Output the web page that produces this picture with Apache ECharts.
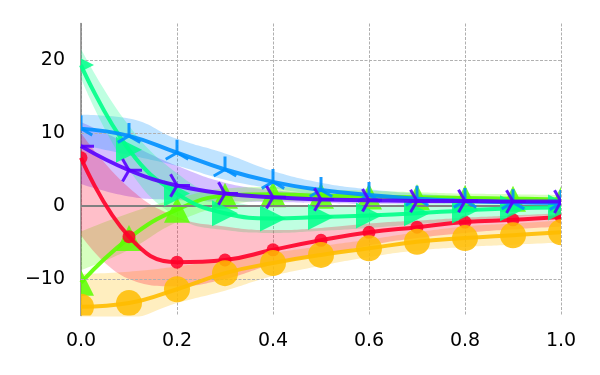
<!DOCTYPE html>
<html><head><meta charset="utf-8">
<script src="https://cdn.jsdelivr.net/npm/echarts@6/dist/echarts.min.js"></script>
<style>html,body{margin:0;padding:0;background:#fff}#c{width:600px;height:375px}</style>
</head><body><div id="c"></div>
<script>
const xs = [0, 0.1, 0.2, 0.3, 0.4, 0.5, 0.6, 0.7, 0.8, 0.9, 1.0];
const xTicks = [0, 0.2, 0.4, 0.6, 0.8, 1.0];
const yTicks = [-10, 0, 10, 20];

const redY  = [6.6, -4.2, -7.7, -7.4, -6.0, -4.7, -3.6, -2.9, -2.2, -1.9, -1.5];
const redHi = [10, 2.5, -1.5, -2.8, -3.3, -3.0, -2.4, -2.0, -1.6, -1.3, -1.0];
const redLo = [-4, -10, -11, -10, -8.0, -6.8, -5.4, -4.4, -3.7, -3.2, -2.8];

const orangeY  = [-13.8, -13.3, -11.4, -9.2, -7.8, -6.7, -5.8, -4.9, -4.4, -4.0, -3.6];
const orangeHi = [-9.3, -9.0, -8.3, -7.3, -6.4, -5.5, -4.6, -3.6, -2.8, -2.4, -2.0];
const orangeLo = [-16, -15.5, -13.3, -11.6, -9.6, -8.2, -7.0, -6.1, -5.6, -5.3, -5.0];

const limeY  = [-10.5, -4.4, -0.5, 1.4, 1.6, 1.4, 1.3, 1.2, 1.1, 1.0, 0.9];
const limeHi = [-3.5, -1.0, 1.0, 2.4, 2.6, 2.3, 2.1, 1.9, 1.7, 1.6, 1.5];
const limeLo = [-8.8, -6.0, -2.2, 0.0, 0.7, 0.7, 0.6, 0.5, 0.4, 0.4, 0.3];

const springY  = [19.3, 7.7, 1.7, -1.0, -1.7, -1.5, -1.3, -1.0, -0.6, -0.3, -0.2];
const springHi = [21.5, 11, 4.5, 1.0, 0.0, 0.0, 0.1, 0.3, 0.4, 0.5, 0.5];
const springLo = [17.5, 5.0, -1.5, -3.3, -3.7, -3.4, -3.0, -2.5, -2.0, -1.5, -1.2];

const blueY  = [10.6, 9.6, 7.3, 5.0, 3.3, 2.2, 1.5, 1.0, 0.7, 0.5, 0.4];
const blueHi = [12.5, 12.0, 9.2, 7.2, 4.8, 3.2, 2.3, 1.7, 1.3, 1.0, 0.8];
const blueLo = [8.4, 7.0, 5.5, 3.6, 2.4, 1.6, 1.1, 0.7, 0.5, 0.3, 0.2];

const violetY  = [8.2, 4.9, 2.8, 1.7, 1.2, 0.9, 0.8, 0.7, 0.7, 0.6, 0.6];
const violetHi = [11.5, 8.5, 5.5, 3.2, 2.2, 1.7, 1.4, 1.3, 1.2, 1.1, 1.1];
const violetLo = [3.0, 1.3, 0.8, 0.6, 0.5, 0.4, 0.3, 0.3, 0.3, 0.3, 0.3];

const C = {red:'#ff0029', orange:'#ffbc00', lime:'#5cff00', spring:'#00ff89', blue:'#008fff', violet:'#5800ff'};

const SM = 0.45;
const pairs = (arr) => xs.map((x, i) => [x, arr[i]]);

function band(key, lo, hi, color) {
  return [
    {type:'line', xAxisIndex:1, data: lo.slice(), stack:'b_'+key, stackStrategy:'all', smooth:SM, symbol:'none',
     lineStyle:{opacity:0}, silent:true, z:1, animation:false},
    {type:'line', xAxisIndex:1, data: hi.map((h,i)=>h-lo[i]), stack:'b_'+key, stackStrategy:'all', smooth:SM, symbol:'none',
     lineStyle:{opacity:0}, areaStyle:{color:color, opacity:0.25}, silent:true, z:1, animation:false}
  ];
}
function line(y, color, z) {
  return {type:'line', data: pairs(y), smooth:SM, symbol:'none', silent:true, z:z, animation:false,
    lineStyle:{color:color, width:4, opacity:0.9}};
}
function marker(y, color, kind, size, z) {
  return {type:'custom', data: pairs(y), z:z, silent:true, animation:false, encode:{x:0, y:1},
    renderItem(params, api) {
      const p = api.coord([api.value(0), api.value(1)]);
      const cs = params.coordSys;
      const h = size / 2, x = p[0], y = p[1];
      let el;
      if (kind === 'circle') {
        el = {type:'circle', shape:{cx:x, cy:y, r:h}, style:{fill:color, opacity:0.85}};
      } else if (kind === 'tup') {
        el = {type:'polygon', shape:{points:[[x, y-h], [x-h, y+h], [x+h, y+h]]}, style:{fill:color, opacity:0.85}};
      } else if (kind === 'tright') {
        el = {type:'polygon', shape:{points:[[x+h, y], [x-h, y-h], [x-h, y+h]]}, style:{fill:color, opacity:0.85}};
      } else {
        const ang = kind === 'triUp' ? [-90, 30, 150] : [0, 120, 240];
        el = {type:'group', children: ang.map(a => ({type:'line',
          shape:{x1:x, y1:y, x2:x + h*Math.cos(a*Math.PI/180), y2:y + h*Math.sin(a*Math.PI/180)},
          style:{stroke:color, lineWidth:3, opacity:0.9}}))};
      }
      return {type:'group', children:[el],
        clipPath:{type:'rect', shape:{x:cs.x, y:cs.y, width:cs.width, height:cs.height}}};
    }};
}

const series = [].concat(
  band('violet', violetLo, violetHi, C.violet),
  band('blue', blueLo, blueHi, C.blue),
  band('spring', springLo, springHi, C.spring),
  band('lime', limeLo, limeHi, C.lime),
  band('orange', orangeLo, orangeHi, C.orange),
  band('red', redLo, redHi, C.red)
);
series.push({type:'line', data:[], silent:true, z:0, animation:false,
  markLine:{silent:true, symbol:['none','none'], label:{show:false}, animation:false,
    lineStyle:{color:'#b0b0b0', width:1, type:[3,1.5]},
    data: yTicks.filter(v=>v!==0).map(v=>({yAxis:v}))}});
series.push({type:'line', data:[], silent:true, z:2, animation:false,
  markLine:{silent:true, symbol:['none','none'], label:{show:false}, animation:false,
    lineStyle:{color:'#808080', width:1.8, type:'solid'},
    data: [{yAxis:0}]}});
const order = [
  [limeY, C.lime, 'tup', 26],
  [redY, C.red, 'circle', 13],
  [orangeY, C.orange, 'circle', 26],
  [springY, C.spring, 'tright', 26],
  [blueY, C.blue, 'triUp', 26],
  [violetY, C.violet, 'triRight', 26]
];
order.forEach((o, i) => {
  series.push(line(o[0], o[1], 3 + 2*i));
  series.push(marker(o[0], o[1], o[2], o[3], 4 + 2*i));
});

const fmtNum = (v, d) => (v < 0 ? '\u2212' : '') + Math.abs(v).toFixed(d);

const chart = echarts.init(document.getElementById('c'), null, {renderer:'canvas'});
chart.setOption({
  animation:false,
  backgroundColor:'#fff',
  grid:{left:81, top:23.5, width:480, height:292, containLabel:false},
  xAxis:[{type:'value', min:0, max:1, interval:0.2,
    axisLine:{show:false}, axisTick:{show:false},
    axisLabel:{color:'#000', fontFamily:'DejaVu Sans', fontSize:19, margin:16,
      formatter:(v)=> xTicks.some(t=>Math.abs(t-v)<1e-9) ? fmtNum(v,1) : ''},
    splitLine:{show:true, lineStyle:{color:'#b0b0b0', width:1, type:[3,1.5]}}},
    {type:'category', data: xs.map(String), boundaryGap:false, show:false}],
  yAxis:{type:'value', min:-15, max:25, interval:5,
    axisLine:{show:true, lineStyle:{color:'#808080', width:1.5}}, axisTick:{show:false},
    axisLabel:{color:'#000', fontFamily:'DejaVu Sans', fontSize:19, margin:16, padding:[4,0,0,0],
      formatter:(v)=> yTicks.includes(v) ? fmtNum(v,0) : ''},
    splitLine:{show:false}},
  series: series
});
</script>
</body></html>
